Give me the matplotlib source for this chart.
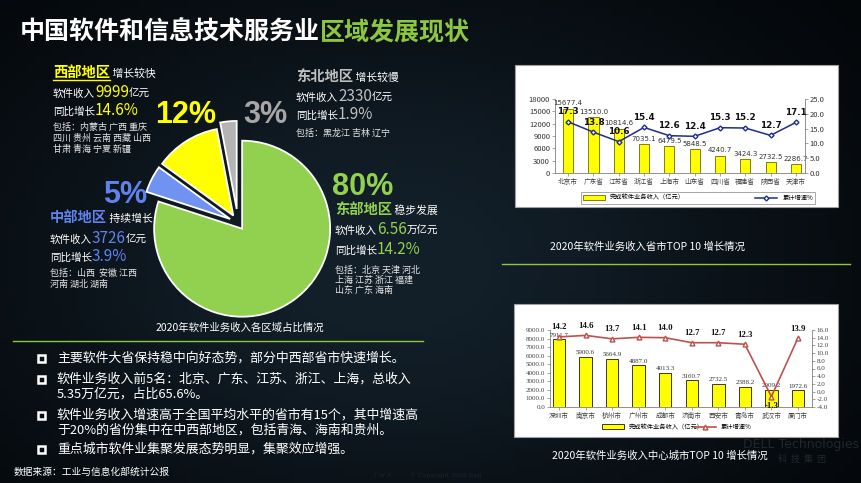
import matplotlib
matplotlib.use('Agg')
import matplotlib.pyplot as plt
import numpy as np
from matplotlib.patches import Rectangle, Patch
from matplotlib.lines import Line2D
from matplotlib.colors import LinearSegmentedColormap

CJK = ['Noto Sans CJK SC', 'DejaVu Sans']
NARROW = ['Liberation Sans Narrow', 'Liberation Sans', 'DejaVu Sans']
SERIF = ['Liberation Serif', 'Noto Sans CJK SC']
plt.rcParams['font.family'] = CJK
plt.rcParams['axes.unicode_minus'] = False

W, H = 861, 483

# --- region pie (clockwise from top) ---
regions = ['东部地区', '中部地区', '西部地区', '东北地区']
region_share = [80, 5, 12, 3]
region_colors = ['#92d050', '#7092f0', '#ffff00', '#b4b4b4']
region_text_colors = ['#92d050', '#5f82ec', '#ffff00', '#bfbfbf']
region_trend = ['稳步发展', '持续增长', '增长较快', '增长较慢']
region_income = ['6.56', '3726', '9999', '2330']
region_unit = ['万亿元', '亿元', '亿元', '亿元']
region_growth = ['14.2%', '3.9%', '14.6%', '1.9%']
region_members = [['北京 天津 河北', '上海 江苏 浙江 福建', '山东 广东 海南'],
                  ['山西  安徽 江西', '河南 湖北 湖南'],
                  ['内蒙古 广西 重庆', '四川 贵州 云南 西藏 山西', '甘肃 青海 宁夏 新疆'],
                  ['黑龙江 吉林 辽宁']]

# --- top 10 provinces ---
prov_names = ['北京市', '广东省', '江苏省', '浙江省', '上海市', '山东省', '四川省', '福建省', '陕西省', '天津市']
prov_income = [15677.4, 13510.0, 10814.6, 7035.1, 6479.5, 5848.5, 4240.7, 3424.3, 2732.5, 2286.7]
prov_growth = [17.3, 13.8, 10.6, 15.4, 12.6, 12.4, 15.3, 15.2, 12.7, 17.1]

# --- top 10 cities ---
city_names = ['深圳市', '南京市', '杭州市', '广州市', '成都市', '济南市', '西安市', '青岛市', '武汉市', '厦门市']
city_income = [7911.7, 5900.6, 5664.9, 4887.0, 4013.3, 3160.7, 2732.5, 2388.2, 2009.2, 1972.6]
city_growth = [14.2, 14.6, 13.7, 14.1, 14.0, 12.7, 12.7, 12.3, -1.3, 13.9]

bullets = [['主要软件大省保持稳中向好态势，部分中西部省市快速增长。'],
           ['软件业务收入前5名：北京、广东、江苏、浙江、上海，总收入', '5.35万亿元，占比65.6%。'],
           ['软件业务收入增速高于全国平均水平的省市有15个，其中增速高', '于20%的省份集中在中西部地区，包括青海、海南和贵州。'],
           ['重点城市软件业集聚发展态势明显，集聚效应增强。']]

GREEN = '#8dc63f'


def px_rect(x0, y0, x1, y1):
    return [x0 / W, 1 - y1 / H, (x1 - x0) / W, (y1 - y0) / H]


fig = plt.figure(figsize=(W / 100, H / 100), dpi=100)
fig.patch.set_facecolor('#070c11')

bg = fig.add_axes([0, 0, 1, 1])
yy, xx = np.mgrid[0:1:60j, 0:1:100j]
glow = np.exp(-((xx - 0.45) ** 2 / 0.25 + (yy - 0.55) ** 2 / 0.35))
bg.imshow(glow, extent=(0, W, H, 0), origin='upper', aspect='auto', zorder=0,
          cmap=LinearSegmentedColormap.from_list('bgc', ['#04070a', '#13202a']))
bg.set_xlim(0, W)
bg.set_ylim(H, 0)
bg.axis('off')

renderer = fig.canvas.get_renderer()


def rich(x, y, parts, family=CJK):
    # draw text pieces one after another on a shared baseline
    for s, color, size, weight in parts:
        t = bg.text(x, y, s, color=color, fontsize=size, fontweight=weight,
                    va='baseline', ha='left', family=family)
        x += t.get_window_extent(renderer).width
    return x


# title
rich(20, 40, [('中国软件和信息技术服务业', 'white', 18, 'bold'), ('区域发展现状', GREEN, 18, 'bold')])

# pie
axp = fig.add_axes(px_rect(238 - 110, 223 - 110, 238 + 110, 223 + 110))
axp.pie(region_share, colors=region_colors, startangle=90, counterclock=False,
        explode=[0.08, 0.1, 0.1, 0.16],
        wedgeprops=dict(edgecolor='white', linewidth=1.3))
axp.set_xlim(-1.25, 1.25)
axp.set_ylim(-1.25, 1.25)
axp.set_aspect('equal')
axp.axis('off')

# percentage labels
pct_pos = [(332, 195), (103, 203), (155, 123), (243, 123)]
pct_cols = ['#92d050', '#5f82ec', '#ffff00', '#a6a6a6']
for v, (px, py), c in zip(region_share, pct_pos, pct_cols):
    bg.text(px, py, f'{v}%', color=c, fontsize=22, fontweight='bold', family=NARROW, va='baseline')


def region_block(i, x, ys, mem_ys):
    c = region_text_colors[i]
    rich(x, ys[0], [(regions[i], c, 10.3, 'bold'), (' ' + region_trend[i], 'white', 7.8, 'normal')])
    rich(x, ys[1], [('软件收入', 'white', 7.6, 'normal'), (region_income[i], c, 11, 'normal'),
                    (region_unit[i], 'white', 7.6, 'normal')])
    rich(x, ys[2], [('同比增长', 'white', 7.6, 'normal'), (region_growth[i], c, 11, 'normal')])
    for k, (my, s) in enumerate(zip(mem_ys, region_members[i])):
        bg.text(x, my, ('包括：' if k == 0 else '') + s, color='#e6e6e6', fontsize=6.5, va='baseline')


region_block(0, 335, [214, 234, 254], [273, 283, 293])
region_block(1, 50, [222, 243, 261], [276, 287])
region_block(2, 53, [77, 97, 115], [130, 141, 152])
region_block(3, 296, [81, 101, 119], [136])
bg.plot([53, 110], [79.5, 79.5], color='#ffff00', lw=1)

bg.text(240, 331, '2020年软件业务收入各区域占比情况', color='white', fontsize=7.5, ha='center', va='baseline')

# green rules
bg.plot([13, 423], [341, 341], color=GREEN, lw=1)
bg.plot([502, 850], [264, 264], color=GREEN, lw=1)

# bullets
line_ys = [[362], [383, 398], [419, 434], [453]]
for lines, ys in zip(bullets, line_ys):
    bg.add_patch(Rectangle((38, ys[0] - 7.5), 7, 7, fill=False, edgecolor='white', lw=1.8))
    for s, y in zip(lines, ys):
        bg.text(57, y, s, color='white', fontsize=9.3, va='baseline')

bg.text(14, 475, '数据来源：工业与信息化部统计公报', color='white', fontsize=7, va='baseline')

# faint watermarks
bg.text(743, 448, 'DELL Technologies', color='#1f272f', fontsize=9, va='baseline', family=['DejaVu Sans'])
bg.text(778, 462, '科  技  集  团', color='#1f272f', fontsize=6.5, va='baseline')
bg.text(373, 477, '7 of X', color='#1c242c', fontsize=4.5, va='baseline', family=['DejaVu Sans'])
bg.text(410, 477, '© Copyright 2019 Dell', color='#1c242c', fontsize=4.5, va='baseline',
        family=['DejaVu Sans'])

# white chart panels
bg.add_patch(Rectangle((515, 65), 323, 142, facecolor='white', edgecolor='#a0a0a0', lw=0.8, zorder=2))
bg.add_patch(Rectangle((514, 304), 324, 133, facecolor='white', edgecolor='#a0a0a0', lw=0.8, zorder=2))

bg.text(647, 250, '2020年软件业务收入省市TOP 10 增长情况', color='white', fontsize=7.5, ha='center', va='baseline')
bg.text(660, 459, '2020年软件业务收入中心城市TOP 10 增长情况', color='white', fontsize=7.5, ha='center', va='baseline')


def style_axes(ax, sides):
    for s in ['top', 'left', 'right', 'bottom']:
        ax.spines[s].set_visible(s in sides)
        ax.spines[s].set_color('#7f7f7f')
        ax.spines[s].set_linewidth(0.6)
    ax.tick_params(length=2, width=0.5, color='#7f7f7f', pad=1.5)


# --- province chart ---
ax1 = fig.add_axes(px_rect(555, 99, 805, 173))
ax1.set_facecolor('none')
xp = np.arange(len(prov_names))
ax1.bar(xp, prov_income, width=0.4, color='#ffff00', edgecolor='#6b6b00', linewidth=0.6)
ax1.set_xlim(-0.52, 9.36)
ax1.set_ylim(0, 18000)
ax1.set_yticks(range(0, 18001, 3000))
ax1.set_xticks(xp, prov_names)
ax1.tick_params(axis='y', labelsize=5.5, labelcolor='#333333')
ax1.tick_params(axis='x', labelsize=4.8, labelcolor='#404040', length=0, pad=3)
style_axes(ax1, ['left', 'bottom'])
for xi, v in zip(xp, prov_income):
    ax1.annotate(f'{v:.1f}', (xi, v), xytext=(0, 1.5), textcoords='offset points',
                 ha='center', va='bottom', fontsize=5, color='#333333', family=['DejaVu Sans'])

ax1b = ax1.twinx()
ax1b.plot(xp, prov_growth, color='#1f2d8a', lw=1.1, marker='D', ms=2.5, mfc='white', mec='#1f2d8a')
ax1b.set_ylim(0, 25)
ax1b.set_yticks(range(0, 26, 5), [f'{t:.1f}' for t in range(0, 26, 5)])
ax1b.tick_params(axis='y', labelsize=5.5, labelcolor='#333333')
style_axes(ax1b, ['right'])
for xi, v in zip(xp, prov_growth):
    ax1b.annotate(f'{v:.1f}', (xi, v), xytext=(0, 4), textcoords='offset points',
                  ha='center', va='bottom', fontsize=6.3, fontweight='bold', color='#111111',
                  family=['DejaVu Sans'])
h1 = [Patch(facecolor='#ffff00', edgecolor='#6b6b00', lw=0.6),
      Line2D([], [], color='#1f2d8a', lw=1.1, marker='D', ms=2.5, mfc='white', mec='#1f2d8a')]
leg1 = ax1b.legend(h1, ['完成软件业务收入（亿元）', '累计增速%'], loc='center', ncol=2, mode='expand',
                   bbox_to_anchor=(0.092, -0.43, 0.96, 0.19), fontsize=4.5, frameon=True,
                   fancybox=False, edgecolor='#808080', borderpad=0.3, handlelength=3.5,
                   handleheight=0.8)
leg1.get_frame().set_linewidth(0.6)

# --- city chart ---
ax2 = fig.add_axes(px_rect(550, 330, 812, 407))
ax2.set_facecolor('none')
xc = np.arange(len(city_names))
ax2.bar(xc, city_income, width=0.47, color='#ffff00', edgecolor='#3a3a00', linewidth=0.7)
ax2.set_xlim(-0.34, 9.53)
ax2.set_ylim(0, 9000)
ax2.set_yticks(range(0, 9001, 1000), [f'{t:.1f}' for t in range(0, 9001, 1000)], family=SERIF)
ax2.set_xticks(xc, city_names)
ax2.tick_params(axis='y', labelsize=5, labelcolor='#404040')
ax2.tick_params(axis='x', labelsize=4.8, labelcolor='#404040', length=0, pad=3)
style_axes(ax2, ['left', 'bottom'])
for xi, v in zip(xc, city_income):
    ax2.annotate(f'{v:.1f}', (xi, v), xytext=(0, 1), textcoords='offset points',
                 ha='center', va='bottom', fontsize=5, color='#333333', family=SERIF)

ax2b = ax2.twinx()
ax2b.plot(xc, city_growth, color='#c0504d', lw=1.2, marker='^', ms=3.5, mfc='white', mec='#c0504d')
ax2b.set_ylim(-4, 16)
ax2b.set_yticks(range(-4, 17, 2), [f'{t:.1f}' for t in range(-4, 17, 2)], family=SERIF)
ax2b.tick_params(axis='y', labelsize=5, labelcolor='#404040')
style_axes(ax2b, ['right'])
for xi, v in zip(xc, city_growth):
    off = (0, 4) if v > 0 else (0, -4)
    ax2b.annotate(f'{v:.1f}', (xi, v), xytext=off, textcoords='offset points', ha='center',
                  va='bottom' if v > 0 else 'top', fontsize=6.3, fontweight='bold',
                  color='#111111', family=SERIF)
h2 = [Patch(facecolor='#ffff00', edgecolor='#3a3a00', lw=0.7),
      Line2D([], [], color='#c0504d', lw=1.2, marker='^', ms=3.5, mfc='white', mec='#c0504d')]
leg2 = ax2b.legend(h2, ['完成软件业务收入（亿元）', '累计增速%'], loc='center', ncol=2, mode='expand',
                   bbox_to_anchor=(0.183, -0.33, 0.6, 0.14), fontsize=4.5, frameon=False,
                   borderpad=0.1, handlelength=3.5, handleheight=0.8)

fig.savefig('out.png', dpi=100, facecolor=fig.get_facecolor())
